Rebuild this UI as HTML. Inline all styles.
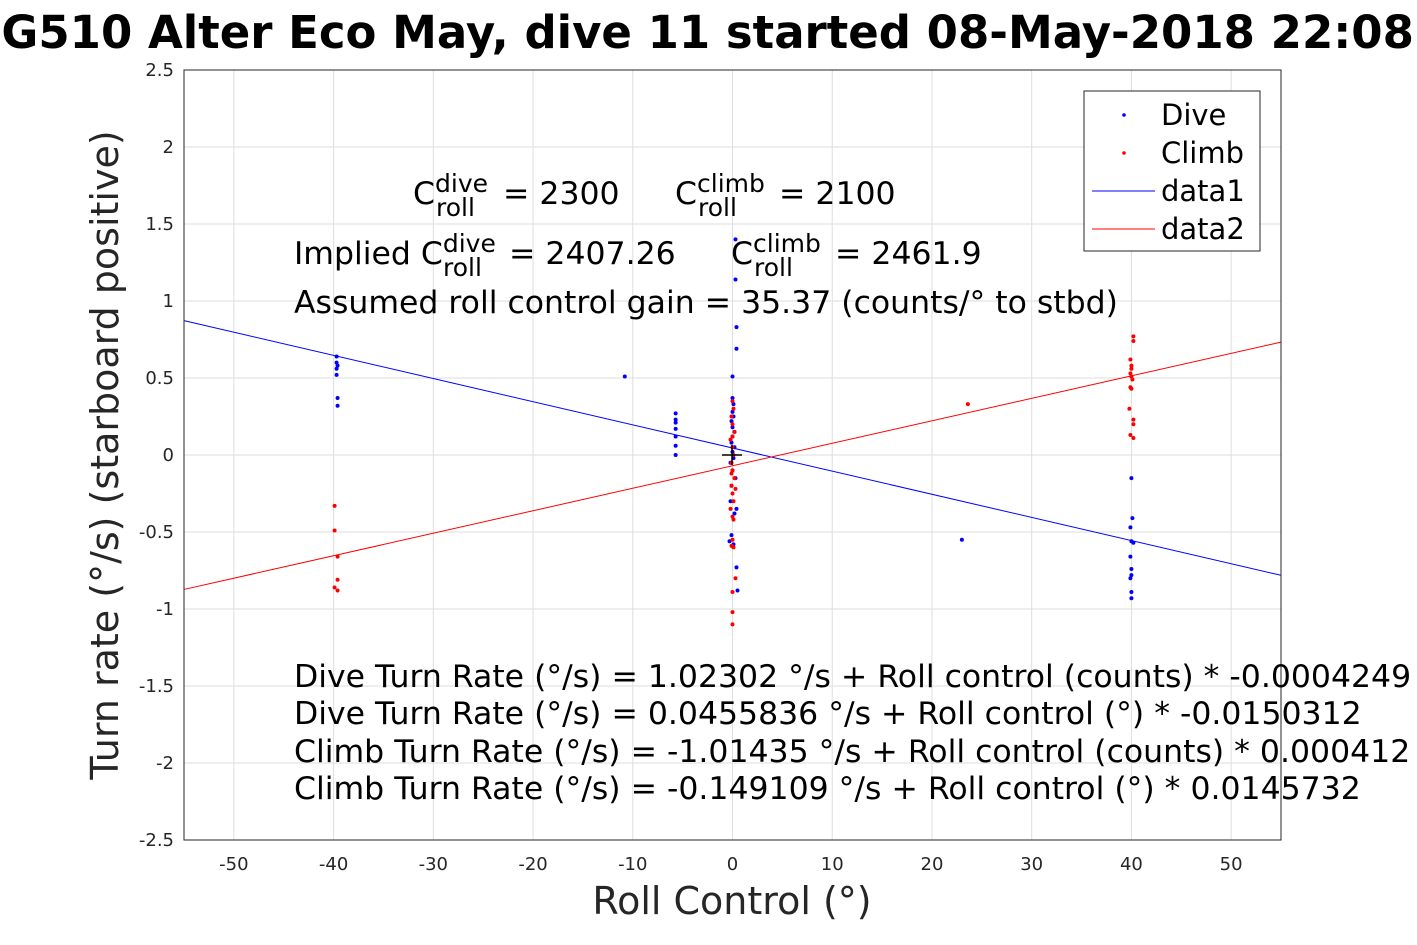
<!DOCTYPE html>
<html><head><meta charset="utf-8"><style>
body{margin:0;background:#fff;}
svg{display:block;font-family:"DejaVu Sans","Liberation Sans",sans-serif;}
</style></head><body>
<svg id="c" width="1417" height="945">
<text x="-31" y="48" font-size="45" font-weight="bold">SG510 Alter Eco May, dive 11 started 08-May-2018 22:08:57</text>
<rect x="184" y="70" width="1097" height="770" fill="#fff" stroke="#262626"/>
<g id="grid"></g><g id="ticks"></g><g id="lines"></g><g id="pts"></g>
<rect x="184" y="70" width="1097" height="770" fill="none" stroke="#262626"/>
<text x="732" y="914" font-size="38" text-anchor="middle" fill="#262626">Roll Control (°)</text>
<text transform="translate(118,455) rotate(-90)" font-size="38" text-anchor="middle" fill="#262626">Turn rate (°/s) (starboard positive)</text>
<g font-size="31.5" fill="#000">
<text x="413" y="204">C<tspan dy="-12" font-size="25">dive</tspan><tspan x="436" dy="24" font-size="25">roll</tspan><tspan x="493" dy="-12"> = 2300</tspan></text>
<text x="675" y="204">C<tspan dy="-12" font-size="25">climb</tspan><tspan x="698" dy="24" font-size="25">roll</tspan><tspan x="769" dy="-12"> = 2100</tspan></text>
<text x="294" y="264">Implied C<tspan dy="-12" font-size="25">dive</tspan><tspan x="443" dy="24" font-size="25">roll</tspan><tspan x="499" dy="-12"> = 2407.26</tspan></text>
<text x="731" y="264">C<tspan dy="-12" font-size="25">climb</tspan><tspan x="754" dy="24" font-size="25">roll</tspan><tspan x="825" dy="-12"> = 2461.9</tspan></text>
<text x="294" y="313">Assumed roll control gain = 35.37 (counts/° to stbd)</text>
<text x="294" y="687">Dive Turn Rate (°/s) = 1.02302 °/s + Roll control (counts) * -0.0004249</text>
<text x="294" y="724">Dive Turn Rate (°/s) = 0.0455836 °/s + Roll control (°) * -0.0150312</text>
<text x="294" y="762">Climb Turn Rate (°/s) = -1.01435 °/s + Roll control (counts) * 0.000412</text>
<text x="294" y="799">Climb Turn Rate (°/s) = -0.149109 °/s + Roll control (°) * 0.0145732</text>
</g>
<path d="M722 455H742M732 445V465" stroke="#000" stroke-width="1.5"/>
<g>
<rect x="1084" y="91" width="176" height="160" fill="#fff" stroke="#262626"/>
<circle cx="1124" cy="115" r="1.8" fill="#00f"/>
<text x="1161" y="125" font-size="29">Dive</text>
<circle cx="1124" cy="153" r="1.8" fill="#f00"/>
<text x="1161" y="163" font-size="29">Climb</text>
<line x1="1092" y1="191" x2="1155" y2="191" stroke="#00f"/>
<text x="1161" y="201" font-size="29">data1</text>
<line x1="1092" y1="229" x2="1155" y2="229" stroke="#f00"/>
<text x="1161" y="239" font-size="29">data2</text>
</g>
</svg>
<script>
const xTicks=[-50,-40,-30,-20,-10,0,10,20,30,40,50];
const yTicks=[-2.5,-2,-1.5,-1,-0.5,0,0.5,1,1.5,2,2.5];
const diveFit=[0.0455836,-0.0150312];
const climbFit=[-0.07,0.0146];
const diveX=[-39.7,-39.7,-39.6,-39.7,-39.7,-39.6,-39.6,-10.8,-5.7,-5.7,-5.7,-5.7,-5.7,-5.7,-5.7,0.3,0.3,0.4,0.4,0,0,0.1,0,0.1,-0.1,0,0.2,0,-0.1,0.2,0,0.1,-0.2,0,0.3,-0.1,-0.2,0.4,0.2,-0.1,-0.3,0.1,0.4,0.5,23,40,40.1,39.9,40,40.2,39.9,40,40,39.9,40,40];
const diveY=[0.64,0.60,0.58,0.56,0.52,0.37,0.32,0.51,0.27,0.23,0.21,0.17,0.12,0.06,0.0,1.40,1.14,0.83,0.69,0.51,0.37,0.33,0.28,0.25,0.22,0.18,0.15,0.12,0.08,0.05,0.02,-0.02,-0.05,-0.1,-0.15,-0.2,-0.3,-0.35,-0.38,-0.52,-0.56,-0.58,-0.73,-0.88,-0.55,-0.15,-0.41,-0.47,-0.56,-0.57,-0.66,-0.74,-0.78,-0.8,-0.89,-0.93];
const climbX=[-39.9,-39.9,-39.6,-39.6,-39.9,-39.6,0,0.1,-0.1,0,0.2,-0.2,0,0.1,-0.1,0,0.2,-0.1,0,0.1,-0.2,0,0.1,-0.1,0.3,0,-0.1,0.1,0.3,0,0,0,0,23.6,40.2,40.2,39.9,40,40,39.9,40,40.1,39.9,40,39.8,40.2,40.2,39.9,40.2];
const climbY=[-0.33,-0.49,-0.66,-0.81,-0.86,-0.88,0.35,0.3,0.25,0.2,0.15,0.1,0.05,0,-0.05,-0.1,-0.15,-0.2,-0.25,-0.3,-0.35,-0.4,-0.42,-0.12,-0.22,-0.55,-0.59,-0.6,-0.8,-0.89,-1.02,-1.1,0.12,0.33,0.77,0.74,0.62,0.58,0.56,0.53,0.51,0.49,0.44,0.43,0.3,0.23,0.2,0.13,0.11];
const X0=184,X1=1281,Y0=840,Y1=70,xmin=-55,xmax=55,ymin=-2.5,ymax=2.5;
function sx(v){return X0+(v-xmin)/(xmax-xmin)*(X1-X0);}
function sy(v){return Y0-(v-ymin)/(ymax-ymin)*(Y0-Y1);}
const NS="http://www.w3.org/2000/svg";
function mk(t,a,p){const e=document.createElementNS(NS,t);for(const k in a)e.setAttribute(k,a[k]);p.appendChild(e);return e;}
const G=document.getElementById('grid'),T=document.getElementById('ticks'),L=document.getElementById('lines'),P=document.getElementById('pts');
xTicks.forEach(v=>{
 const l=mk('line',{x1:sx(v),x2:sx(v),y1:Y1,y2:Y0,stroke:'#dedede'},G);
 
 
 const t=mk('text',{x:sx(v),y:Y0+30,'font-size':18,'text-anchor':'middle',fill:'#262626'},T);t.textContent=v;
 
 
});
yTicks.forEach(v=>{
 const l=mk('line',{x1:X0,x2:X1,y1:sy(v),y2:sy(v),stroke:'#dedede'},G);
 
 
 const t=mk('text',{x:X0-10,y:sy(v)+6,'font-size':18,'text-anchor':'end',fill:'#262626'},T);t.textContent=v;
 
 
});
[[diveFit,'#00f','dive-fit-line'],[climbFit,'#f00','climb-fit-line']].forEach(([f,c,n])=>{
 const l=mk('line',{x1:sx(xmin),y1:sy(f[0]+f[1]*xmin),x2:sx(xmax),y2:sy(f[0]+f[1]*xmax),stroke:c,'stroke-width':1},L);
 
 
});
diveX.forEach((x,i)=>{const c=mk('circle',{cx:sx(x),cy:sy(diveY[i]),r:2,fill:'#00f'},P);
 
 });
climbX.forEach((x,i)=>{const c=mk('circle',{cx:sx(x),cy:sy(climbY[i]),r:2,fill:'#f00'},P);
 
 });
</script>
</body></html>
